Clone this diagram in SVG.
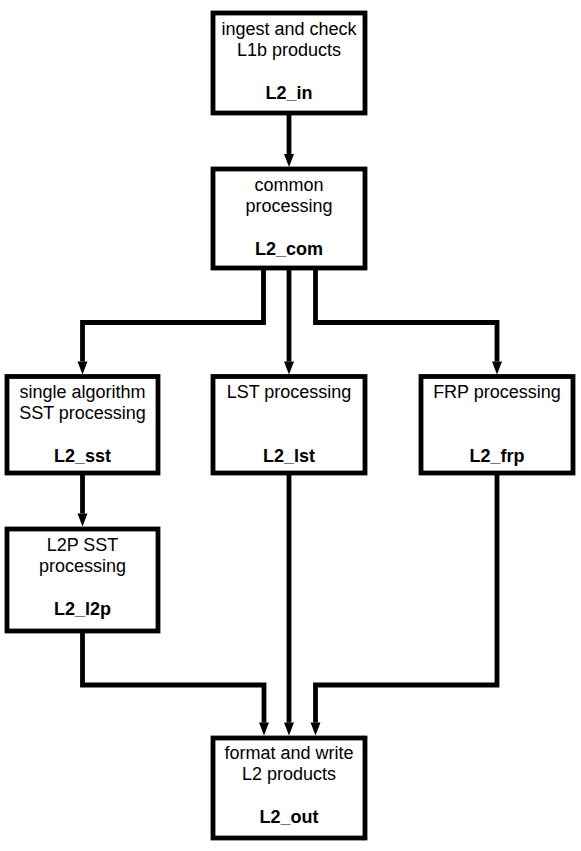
<svg xmlns="http://www.w3.org/2000/svg" width="581" height="851" viewBox="0 0 581 851">
<style>
.box{fill:#fff;stroke:#000;stroke-width:4.8}
.t{font-family:"Liberation Sans",Arial,sans-serif;font-size:18px;fill:#000;text-anchor:middle}
.b{font-weight:bold}
.c{fill:none;stroke:#000;stroke-width:4.8;stroke-linejoin:miter;stroke-linecap:butt}
</style>
<defs>
<marker id="ah" markerUnits="userSpaceOnUse" markerWidth="14" markerHeight="11" refX="0" refY="5" orient="auto" overflow="visible">
<path d="M0,0 L13,5 L0,10 Z" fill="#000"/>
</marker>
</defs>
<rect width="581" height="851" fill="#fff"/>
<g id="connectors">
<path class="c" d="M289,113 V154" marker-end="url(#ah)"/>
<path class="c" d="M263.5,268 V322.5 H82.5 V361.5" marker-end="url(#ah)"/>
<path class="c" d="M289,268 V361.5" marker-end="url(#ah)"/>
<path class="c" d="M315.5,268 V322.5 H497 V361.5" marker-end="url(#ah)"/>
<path class="c" d="M82.5,473 V513.5" marker-end="url(#ah)"/>
<path class="c" d="M82.5,631 V685 H264 V722.5" marker-end="url(#ah)"/>
<path class="c" d="M289,473 V722.5" marker-end="url(#ah)"/>
<path class="c" d="M497,473 V685 H315.5 V722.5" marker-end="url(#ah)"/>
</g>
<g id="L2_in">
<rect class="box" x="213" y="13" width="152" height="100"/>
<text class="t" x="289" y="34.5">ingest and check</text>
<text class="t" x="289" y="55.5">L1b products</text>
<text class="t b" x="289" y="99">L2_in</text>
</g>
<g id="L2_com">
<rect class="box" x="213" y="169" width="152" height="99"/>
<text class="t" x="289" y="190.5">common</text>
<text class="t" x="289" y="211.5">processing</text>
<text class="t b" x="289" y="255">L2_com</text>
</g>
<g id="L2_sst">
<rect class="box" x="7" y="376.5" width="151" height="96.5"/>
<text class="t" x="82.5" y="397.5">single algorithm</text>
<text class="t" x="82.5" y="418.5">SST processing</text>
<text class="t b" x="82.5" y="462">L2_sst</text>
</g>
<g id="L2_lst">
<rect class="box" x="213" y="376.5" width="152" height="96.5"/>
<text class="t" x="289" y="397.5">LST processing</text>
<text class="t b" x="289" y="462">L2_lst</text>
</g>
<g id="L2_frp">
<rect class="box" x="421" y="376.5" width="152" height="96.5"/>
<text class="t" x="497" y="397.5">FRP processing</text>
<text class="t b" x="497" y="462">L2_frp</text>
</g>
<g id="L2_l2p">
<rect class="box" x="7" y="529" width="151" height="102"/>
<text class="t" x="82.5" y="551">L2P SST</text>
<text class="t" x="82.5" y="572">processing</text>
<text class="t b" x="82.5" y="615">L2_l2p</text>
</g>
<g id="L2_out">
<rect class="box" x="213" y="738" width="152" height="100"/>
<text class="t" x="289" y="759">format and write</text>
<text class="t" x="289" y="780">L2 products</text>
<text class="t b" x="289" y="823">L2_out</text>
</g>
</svg>
